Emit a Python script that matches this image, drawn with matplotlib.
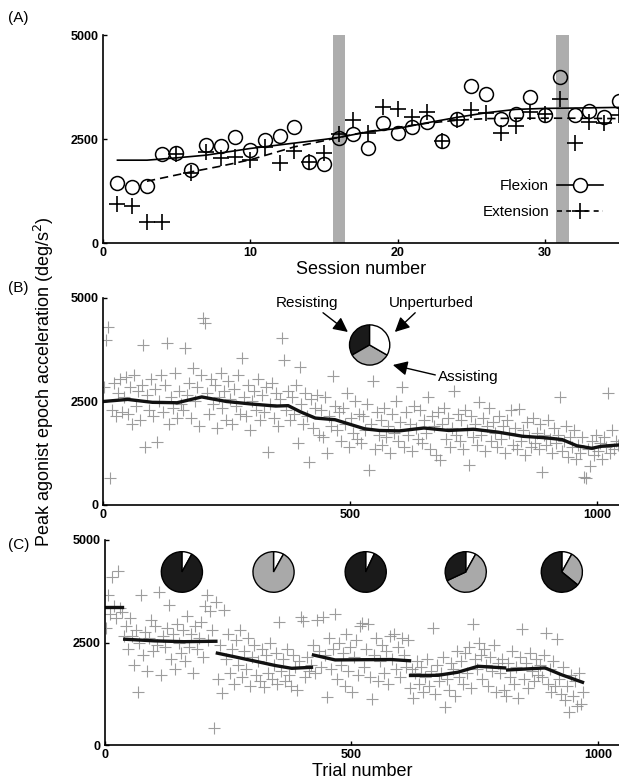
import numpy as np
import matplotlib
matplotlib.use("Agg")
import matplotlib.pyplot as plt
from matplotlib.lines import Line2D

plt.rcParams['font.family'] = ['Liberation Sans', 'DejaVu Sans']

# ---- panel A: per-session values ----
sessions = np.arange(1, 36)
flexion = [1445, 1350, 1372, 2135, 2167, 1750, 2352, 2328, 2552, 2247,
           2472, 2570, 2794, 1951, 1895, 2529, 2610, 2289, 2874, 2650,
           2794, 2900, 2457, 2971, 3782, 3581, 2971, 3100, 3501, 3075,
           3999, 3075, 3172, 3019, 3420]
extension = [947, 891, 506, 506, 2151, 1686, 2191, 2055, 2071, 2007,
             2312, 1927, 2208, 1951, 2167, 2620, 2955, 2650, 3276, 3228,
             3035, 3150, 2457, 2955, 3196, 3115, 2634, 2810, 3150, 3091,
             3461, 2409, 2915, 2875, 3075]
flex_fit_s = [1, 3, 5, 7, 10, 15, 16, 18, 20, 22, 24, 26, 28, 30, 32, 35]
flex_fit = [1991, 1991, 2047, 2111, 2272, 2489, 2537, 2674, 2754, 2890,
            3019, 3131, 3212, 3236, 3244, 3260]
ext_fit_s = [3, 6, 8, 10, 13, 15, 16, 18, 20, 22, 24, 26, 28, 30, 32, 35]
ext_fit = [1485, 1710, 1847, 2000, 2312, 2457, 2540, 2680, 2780, 2880,
           2950, 2990, 3000, 3000, 3000, 2990]
gray_bars = [(15.6, 16.45), (30.7, 31.6)]

# ---- panel B: trial values ----
b_vals = [2850, 3985, 4306, 652, 2300, 2950, 2150, 2700, 3050, 2250,
          2600, 3100, 2200, 2850, 1950, 3150, 2400, 2750, 2050, 2900,
          3864, 1409, 2650, 2300, 3050, 2150, 2800, 1530, 2500, 3150,
          2250, 2900, 3905, 1950, 2600, 2350, 3200, 2100, 2750, 2450,
          2300, 3784, 2650, 2950, 2100, 3300, 2500, 2850, 1900, 3150,
          4509, 4390, 2700, 2200, 3050, 2450, 2900, 1850, 2600, 3200,
          2350, 2750, 2050, 3000, 2550, 1950, 2800, 2400, 3150, 2200,
          3543, 2600, 2150, 2900, 1800, 2500, 2750, 2300, 3050, 2050,
          2650, 2250, 2850, 1288, 2450, 2950, 2100, 2700, 1900, 2550,
          4026, 3502, 2300, 2750, 2050, 2600, 2200, 2900, 1489, 3341,
          2450, 1950, 2700, 2150, 1047, 2550, 1850, 2350, 2650, 1700,
          2300, 1650, 2600, 1248, 2150, 1900, 3116, 2400, 1800, 2250,
          1550, 2350, 1950, 2700, 1400, 2100, 1750, 2500, 1600, 2200,
          1500, 2150, 1800, 2450, 845, 1950, 3000, 1350, 2250, 1700,
          2050, 1450, 2350, 1650, 1900, 1250, 2200, 1750, 2500, 1550,
          2000, 2840, 1400, 2250, 1700, 1950, 1300, 2400, 1850, 1600,
          2300, 1500, 2050, 1750, 2600, 1350, 2150, 1900, 1200, 2250,
          1087, 1950, 2350, 1600, 2100, 1400, 1850, 2760, 1700, 2200,
          1550, 2050, 1350, 2300, 1800, 966, 2150, 1650, 1950, 1450,
          2480, 1700, 2100, 1300, 1900, 2350, 1550, 2000, 1750, 1400,
          2150, 1600, 1900, 1250, 2050, 1750, 2300, 1450, 1850, 1350,
          2330, 1550, 1800, 1200, 2000, 1650, 1400, 2100, 1500, 1750,
          1350, 1950, 805, 1700, 1450, 2050, 1600, 1250, 1850, 1500,
          1700, 2600, 1300, 1550, 1900, 1150, 1650, 1400, 1800, 1100,
          1450, 1250, 1650, 684, 650, 1350, 950, 1550, 1200, 1700,
          1300, 1500, 1100, 1650, 1400, 2700, 1250, 1800, 1350, 1550,
          1450]
b_trials = np.arange(len(b_vals)) * 4 + 2
b_avg_t = [0, 50, 100, 150, 200, 250, 300, 350, 375, 400, 430, 470, 500,
           530, 560, 600, 650, 700, 750, 800, 850, 900, 930, 960, 990, 1010, 1045]
b_avg = [2500, 2550, 2480, 2470, 2610, 2500, 2440, 2390, 2400, 2250, 2100,
         2060, 1950, 1840, 1800, 1790, 1860, 1800, 1830, 1760, 1660, 1620,
         1580, 1430, 1370, 1420, 1450]

# ---- panel C: trial values ----
c_vals = [2850, 3650, 3200, 4100, 3400, 3100, 4250, 3350, 3250, 2650,
          2900, 2350, 3100, 2650, 1950, 2800, 1300, 2500, 3660, 2200,
          2750, 1800, 2600, 3050, 2300, 2900, 2450, 3726, 1700, 2650,
          2400, 2850, 3418, 2100, 2700, 1850, 2950, 2500, 2250, 2800,
          2050, 3150, 2400, 2700, 1750, 2900, 2350, 2600, 3000, 2150,
          3400, 3660, 2550, 3270, 2800, 407, 3500, 1600, 2450, 1260,
          3300, 2100, 2700, 1750, 2350, 1500, 2550, 1950, 2800, 1650,
          2300, 1850, 2600, 1450, 2150, 2450, 1700, 2050, 1550, 2350,
          1420, 2200, 1750, 2500, 1600, 1950, 2250, 1500, 3008, 1800,
          2100, 1550, 2350, 1700, 1450, 2200, 1900, 1350, 2050, 3130,
          3024, 1650, 2150, 1800, 1950, 2450, 1750, 3050, 2300, 1900,
          3121, 2200, 1170, 2600, 1850, 2350, 3186, 1600, 2500, 1950,
          2250, 1450, 2700, 1800, 2400, 1300, 2150, 2550, 1700, 2900,
          2984, 1900, 2350, 2950, 1650, 1130, 2200, 2600, 1550, 2050,
          2450, 1750, 2300, 1500, 2650, 2100, 2700, 1850, 2400, 1650,
          2600, 2200, 1900, 2550, 1400, 1850, 1150, 1750, 2050, 1500,
          1900, 1300, 1650, 2100, 1450, 1800, 2863, 1250, 1950, 1550,
          1750, 2150, 927, 1600, 1350, 2000, 1850, 1200, 2300, 1650,
          2050, 1500, 2250, 1750, 2400, 1400, 2944, 2100, 1850, 2500,
          2200, 1600, 2350, 1950, 1450, 2150, 1800, 2450, 1300, 2000,
          1750, 2100, 1350, 1200, 2000, 1650, 2300, 1500, 1900, 1150,
          2150, 2823, 1600, 2000, 1400, 2250, 1800, 1550, 2100, 1700,
          1950, 1650, 2200, 2742, 1500, 1850, 1300, 2050, 1450, 2581,
          1600, 1250, 1900, 1100, 1450, 806, 1700, 1200, 1550, 950,
          1750, 1008, 1300]
c_trials = np.arange(len(c_vals)) * 4 + 2
c_seg_t = [[0, 35], [40, 100, 160, 225], [228, 283, 347, 379, 419],
           [423, 467, 520, 580, 618], [620, 676, 716, 757, 811],
           [817, 893, 925, 969]]
c_seg_v = [[3370, 3370], [2580, 2540, 2520, 2530],
           [2240, 2100, 1935, 1870, 1895], [2195, 2075, 2080, 2085, 2055],
           [1695, 1700, 1775, 1920, 1880], [1830, 1880, 1720, 1530]]

# pies: fractions (unperturbed, assisting, resisting)
b_pie = [1 / 3, 1 / 3, 1 / 3]
c_pie_t = [156, 342, 529, 732, 927]
c_pies = [[0.08, 0.0, 0.92], [0.08, 0.92, 0.0], [0.07, 0.0, 0.93],
          [0.08, 0.60, 0.32], [0.08, 0.28, 0.64]]
pie_cols = ['white', '#a9a9a9', '#1a1a1a']

W, H = 619, 782
fig = plt.figure(figsize=(W / 100, H / 100), dpi=100)
axA = fig.add_axes([102.7 / W, 1 - 243 / H, 1 - 102.7 / W, 208 / H])
axB = fig.add_axes([103 / W, 1 - 505 / H, 1 - 103 / W, 207 / H])
axC = fig.add_axes([105 / W, 1 - 745 / H, 1 - 105 / W, 205 / H])


def style(ax):
    for s in ['top', 'right']:
        ax.spines[s].set_visible(False)
    for s in ['left', 'bottom']:
        ax.spines[s].set_linewidth(1.2)
    ax.tick_params(direction='in', length=3, width=1, pad=3)
    for lab in ax.get_xticklabels() + ax.get_yticklabels():
        lab.set_fontweight('bold')
        lab.set_fontsize(9)
    ax.set_ylim(0, 5000)
    ax.set_yticks([0, 2500, 5000])


# A
for x0, x1 in gray_bars:
    axA.axvspan(x0, x1, ymax=1.0, color='#adadad', lw=0, zorder=0)
axA.plot(sessions, flexion, 'o', mfc='none', mec='black', ms=10, mew=1.1)
axA.plot(sessions, extension, '+', color='black', ms=11, mew=1.2)
axA.plot(flex_fit_s, flex_fit, '-', color='black', lw=1.2)
axA.plot(ext_fit_s, ext_fit, '--', color='black', lw=1.2, dashes=(5, 3))
axA.set_xlim(0, 35)
axA.set_xticks([0, 10, 20, 30])
style(axA)
axA.set_xlabel('Session number', fontsize=13, labelpad=1)
hs = [Line2D([], [], color='black', lw=1.2, marker='o', mfc='white', ms=10, mew=1.1),
      Line2D([], [], color='black', lw=1.2, ls='--', dashes=(3, 2.5), marker='+', ms=11, mew=1.2)]
axA.legend(hs, ['Flexion', 'Extension'], loc='lower right', markerfirst=False,
           frameon=False, fontsize=11, handlelength=3.0, labelspacing=0.75,
           bbox_to_anchor=(0.995, 0.05), handletextpad=0.5)

# B
axB.plot(b_trials, b_vals, '+', color='#8c8c8c', ms=9, mew=0.8, alpha=0.85)
axB.plot(b_avg_t, b_avg, '-', color='#111111', lw=2.4)
axB.set_xlim(0, 1045)
axB.set_xticks([0, 500, 1000])
style(axB)


def pie_box(ax, cx, cy, w, h, vals, cols, ccw):
    sub = ax.inset_axes([cx - w / 2, cy - h / 2, w, h], transform=ax.transData)
    sub.pie(vals, colors=cols, startangle=90, counterclock=ccw,
            wedgeprops=dict(edgecolor='black', linewidth=1.0))
    sub.set_aspect('auto')
    sub.set_xlim(-1.03, 1.03)
    sub.set_ylim(-1.03, 1.03)
    sub.axis('off')


# B pie: resisting upper-left, assisting bottom, unperturbed right
pie_box(axB, 540, 3865, 84, 1000, [b_pie[2], b_pie[1], b_pie[0]],
        [pie_cols[2], pie_cols[1], pie_cols[0]], True)
arr = dict(arrowstyle='-|>,head_length=0.8,head_width=0.4', color='black', lw=1.0,
           shrinkA=0, shrinkB=0)
axB.annotate('Resisting', xy=(496, 4179), xytext=(413, 4880), fontsize=11,
             ha='center', va='center', arrowprops=dict(arr, relpos=(0.7, 0.0)))
axB.annotate('Unperturbed', xy=(591, 4179), xytext=(664, 4880), fontsize=11,
             ha='center', va='center', arrowprops=dict(arr, relpos=(0.35, 0.0)))
axB.annotate('Assisting', xy=(587, 3382), xytext=(740, 3092), fontsize=11,
             ha='center', va='center', arrowprops=dict(arr, relpos=(0.0, 0.6)))

# C
axC.plot(c_trials, c_vals, '+', color='#8c8c8c', ms=9, mew=0.8, alpha=0.85)
for ts, vs in zip(c_seg_t, c_seg_v):
    axC.plot(ts, vs, '-', color='#111111', lw=2.4)
axC.set_xlim(0, 1043)
axC.set_xticks([0, 500, 1000])
style(axC)
axC.set_xlabel('Trial number', fontsize=13, labelpad=1)
for t, fr in zip(c_pie_t, c_pies):
    vals = [f for f in fr if f > 0]
    cols = [c for f, c in zip(fr, pie_cols) if f > 0]
    pie_box(axC, t, 4220, 86, 1020, vals, cols, False)

fig.text(44 / W, 1 - 382 / H, 'Peak agonist epoch acceleration (deg/s$^2$)',
         rotation=90, fontsize=13, ha='center', va='center')
for lab, y in [('(A)', 18), ('(B)', 288), ('(C)', 545)]:
    fig.text(8 / W, 1 - y / H, lab, fontsize=11, ha='left', va='center')

fig.savefig('out.png', dpi=100)
